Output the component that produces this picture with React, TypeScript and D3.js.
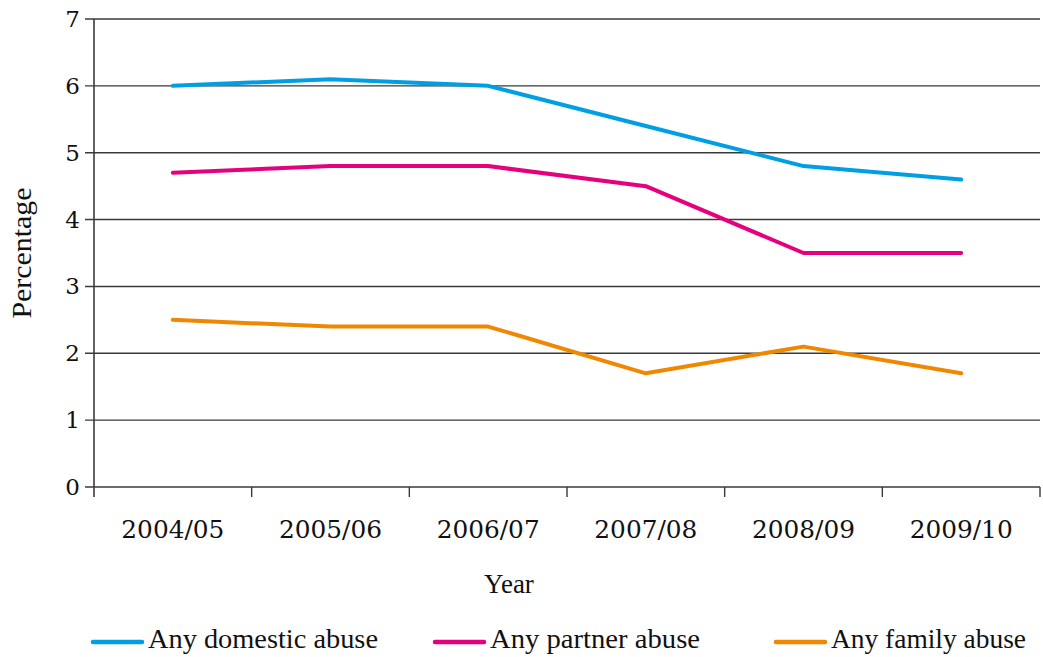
import React from "react";
import * as d3 from "d3";

const years = ["2004/05", "2005/06", "2006/07", "2007/08", "2008/09", "2009/10"];
const domestic = [6.0, 6.1, 6.0, 5.4, 4.8, 4.6];
const partner = [4.7, 4.8, 4.8, 4.5, 3.5, 3.5];
const family = [2.5, 2.4, 2.4, 1.7, 2.1, 1.7];
const yTicks = [0, 1, 2, 3, 4, 5, 6, 7];
const seriesNames = ["Any domestic abuse", "Any partner abuse", "Any family abuse"];
const seriesColors = ["#009fe3", "#e5007d", "#f08700"];

const W = 1043;
const H = 657;
const left = 94;
const right = 1040;
const top = 19;
const bottom = 487;

export default function App() {
  const x = d3.scaleBand<string>().domain(years).range([left, right]).padding(0);
  const y = d3.scaleLinear().domain([0, 7]).range([bottom, top]);
  const line = d3
    .line<number>()
    .x((_, i) => (x(years[i]) as number) + x.bandwidth() / 2)
    .y((d) => y(d));
  const series = [domestic, partner, family];
  const legendX = [93, 435, 776];
  const legendTextLen = [230, 210, 195];
  const axisColor = "#3a3a3a";
  return (
    <svg
      width={W}
      height={H}
      style={{ position: "absolute", left: 0, top: 0, background: "#fff" }}
    >
      {yTicks.map((t) => (
        <g key={t}>
          <line x1={85} x2={right} y1={y(t)} y2={y(t)} stroke={axisColor} strokeWidth={1.4} />
          <text
            x={80}
            y={y(t)}
            dy="0.35em"
            textAnchor="end"
            fontFamily="DejaVu Serif"
            fontSize={23}
            fill="#111"
          >
            {t}
          </text>
        </g>
      ))}
      <line x1={left} x2={left} y1={top} y2={497} stroke={axisColor} strokeWidth={1.6} />
      {years.map((yr, i) => (
        <g key={yr}>
          <line
            x1={(x(yr) as number) + x.bandwidth()}
            x2={(x(yr) as number) + x.bandwidth()}
            y1={bottom}
            y2={497}
            stroke={axisColor}
            strokeWidth={1.4}
          />
          <text
            x={(x(yr) as number) + x.bandwidth() / 2}
            y={538}
            textAnchor="middle"
            fontFamily="DejaVu Serif"
            fontSize={24}
            textLength={103}
            lengthAdjust="spacingAndGlyphs"
            fill="#111"
          >
            {yr}
          </text>
        </g>
      ))}
      {series.map((s, i) => (
        <path
          key={i}
          d={line(s) as string}
          fill="none"
          stroke={seriesColors[i]}
          strokeWidth={4}
          strokeLinecap="round"
          strokeLinejoin="round"
        />
      ))}
      <text
        x={509}
        y={593}
        textAnchor="middle"
        fontFamily="Liberation Serif"
        fontSize={27}
        fill="#111"
      >
        Year
      </text>
      <text
        transform="translate(31,253) rotate(-90)"
        textAnchor="middle"
        fontFamily="Liberation Serif"
        fontSize={27}
        textLength={131}
        lengthAdjust="spacingAndGlyphs"
        fill="#111"
      >
        Percentage
      </text>
      {seriesNames.map((n, i) => (
        <g key={n}>
          <line
            x1={legendX[i]}
            x2={legendX[i] + 49}
            y1={642}
            y2={642}
            stroke={seriesColors[i]}
            strokeWidth={4.5}
            strokeLinecap="round"
          />
          <text
            x={legendX[i] + 55}
            y={648}
            fontFamily="Liberation Serif"
            fontSize={27}
            textLength={legendTextLen[i]}
            lengthAdjust="spacingAndGlyphs"
            fill="#111"
          >
            {n}
          </text>
        </g>
      ))}
    </svg>
  );
}
